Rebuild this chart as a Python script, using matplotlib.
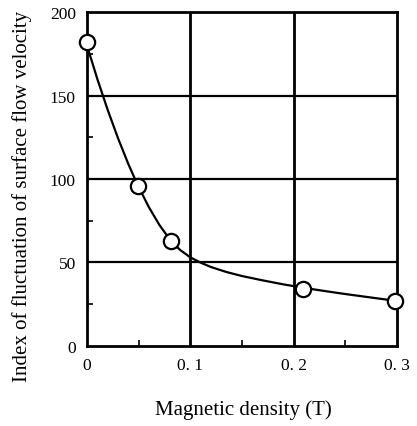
import numpy as np
import matplotlib.pyplot as plt

# measured points (circles)
density = [0.0, 0.049, 0.081, 0.209, 0.298]
index_val = [182, 96, 63, 34, 27]

# fitted curve
curve_x = [0.0, 0.01, 0.02, 0.03, 0.04, 0.049, 0.06, 0.07, 0.081, 0.09, 0.1,
           0.11, 0.12, 0.135, 0.15, 0.17, 0.19, 0.209, 0.23, 0.25, 0.275, 0.298]
curve_y = [180, 160, 141.5, 124.5, 109, 96.4, 83, 72.5, 63, 57.5, 53,
           49.8, 47.2, 44.2, 41.8, 39.2, 36.8, 34.8, 32.8, 31, 28.9, 27]

xticks = [0, 0.1, 0.2, 0.3]
xtick_labels = ['0', '0. 1', '0. 2', '0. 3']
yticks = [0, 50, 100, 150, 200]

plt.rcParams['font.family'] = ['Liberation Serif', 'DejaVu Serif']

fig = plt.figure(figsize=(4.17, 4.27), dpi=100)
ax = fig.add_axes([0.2086, 0.188, 0.7434, 0.781])

for gx in [0.1, 0.2]:
    ax.axvline(gx, color='black', lw=2, zorder=1)
for gy in [50, 100, 150]:
    ax.axhline(gy, color='black', lw=1.6, zorder=1)

ax.plot(curve_x, curve_y, color='black', lw=1.6, zorder=2)
ax.plot(density, index_val, 'o', ms=11, mfc='white', mec='black', mew=1.6,
        zorder=3, clip_on=False)

ax.set_xlim(0, 0.3)
ax.set_ylim(0, 200)
ax.set_xticks(xticks)
ax.set_xticklabels(xtick_labels)
ax.set_yticks(yticks)
ax.set_xticks([0.05, 0.15, 0.25], minor=True)
ax.set_yticks([25, 75, 125, 175], minor=True)
ax.tick_params(which='major', length=0, labelsize=12.5, pad=8)
ax.tick_params(which='minor', direction='in', length=4, width=1.2)
for s in ax.spines.values():
    s.set_linewidth(2)

fig.text(243 / 417, 1 - 410 / 427, 'Magnetic density (T)', fontsize=15,
         ha='center', va='center')
fig.text(22 / 417, 1 - 196 / 427, 'Index of fluctuation of surface flow velocity',
         fontsize=15, rotation=90, ha='center', va='center')

plt.savefig('out.png', dpi=100)
